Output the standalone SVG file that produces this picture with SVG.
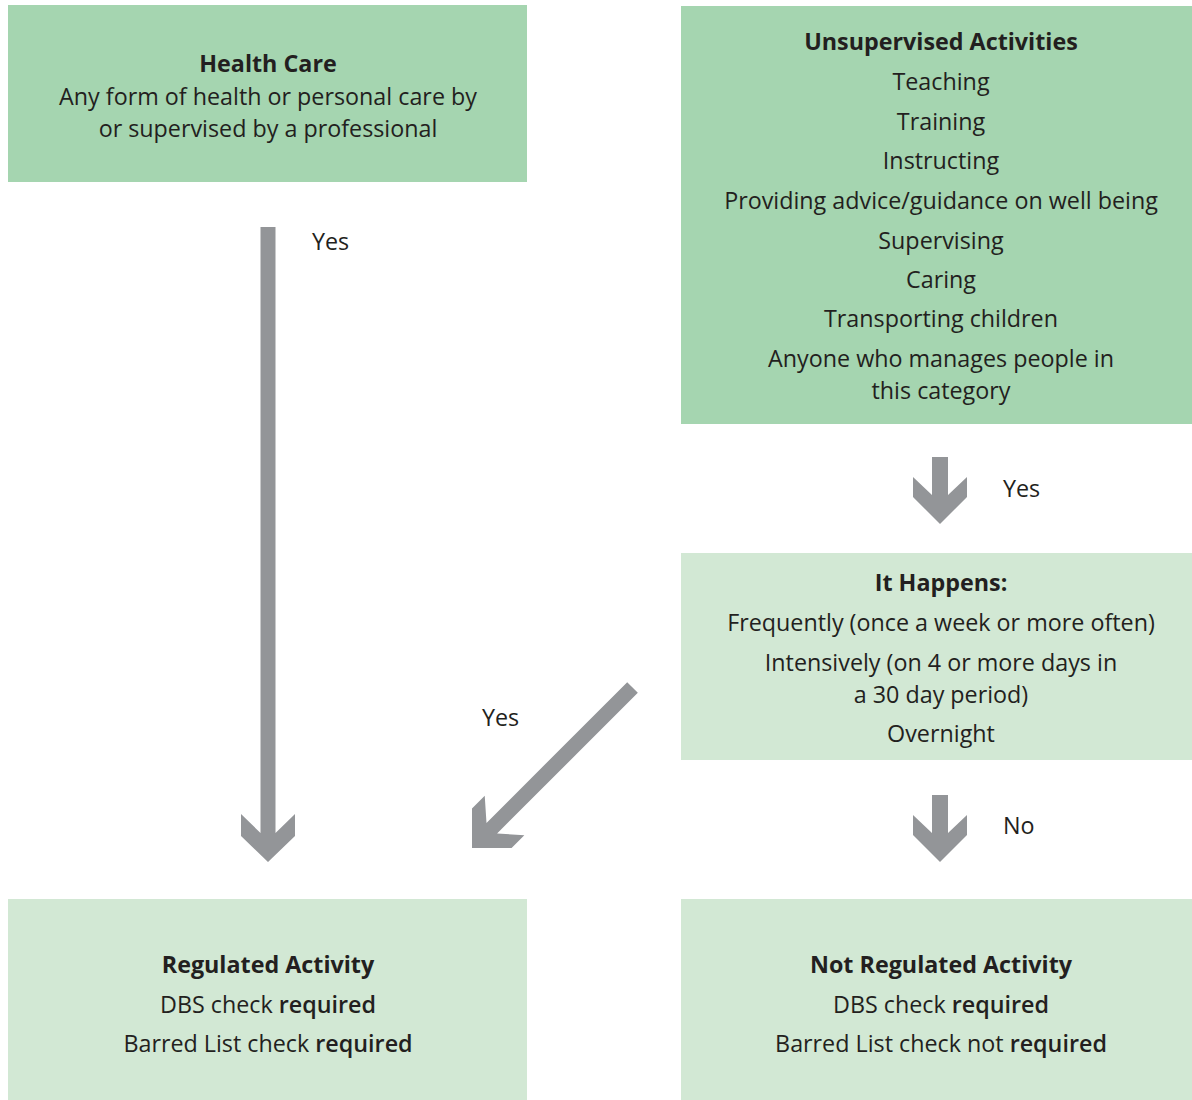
<svg xmlns="http://www.w3.org/2000/svg" width="1192" height="1100" viewBox="0 0 1192 1100">
<style>
.dark{fill:#a5d5b0}
.light{fill:#d2e8d4}
text{font-family:"Open Sans","Liberation Sans",sans-serif;font-size:23.3px;fill:#231f20;text-anchor:middle}
.b{font-weight:700}
.m{font-weight:600}
.arrow{fill:#939598}
.lbl{text-anchor:start}
</style>
<rect width="1192" height="1100" fill="#ffffff"/>
<g id="connectors">
<path class="arrow" transform="translate(268,862)" d="M-7.5,-635 L7.5,-635 L7.5,-29 L27,-48 L27,-26 L0,0 L-27,-26 L-27,-48 L-7.5,-29 Z"/>
<path class="arrow" transform="translate(940,524)" d="M-8,-67 L8,-67 L8,-29 L27,-47 L27,-27 L0,0 L-27,-27 L-27,-47 L-8,-29 Z"/>
<path class="arrow" transform="translate(940,862)" d="M-8,-67 L8,-67 L8,-29 L27,-47 L27,-27 L0,0 L-27,-27 L-27,-47 L-8,-29 Z"/>
<path class="arrow" transform="translate(472,848) rotate(45)" d="M-7.5,-227 L7.5,-227 L7.5,-28 L28,-46 L28,-28 L0,0 L-28,-28 L-28,-46 L-7.5,-28 Z"/>
<text class="lbl" x="312" y="250">Yes</text>
<text class="lbl" x="1003" y="497">Yes</text>
<text class="lbl" x="482" y="726">Yes</text>
<text class="lbl" x="1003" y="834">No</text>
</g>
<g id="health-care">
<rect class="dark" x="8" y="5" width="519" height="177"/>
<text class="b" x="268" y="72">Health Care</text>
<text x="268" y="105">Any form of health or personal care by</text>
<text x="268" y="137">or supervised by a professional</text>
</g>
<g id="unsupervised">
<rect class="dark" x="681" y="6" width="511" height="418"/>
<text class="b" x="941" y="50">Unsupervised Activities</text>
<text x="941" y="90">Teaching</text>
<text x="941" y="130">Training</text>
<text x="941" y="169">Instructing</text>
<text x="941" y="209">Providing advice/guidance on well being</text>
<text x="941" y="249">Supervising</text>
<text x="941" y="288">Caring</text>
<text x="941" y="327">Transporting children</text>
<text x="941" y="367">Anyone who manages people in</text>
<text x="941" y="399">this category</text>
</g>
<g id="it-happens">
<rect class="light" x="681" y="553" width="511" height="207"/>
<text class="b" x="941" y="591">It Happens:</text>
<text x="941" y="631">Frequently (once a week or more often)</text>
<text x="941" y="671">Intensively (on 4 or more days in</text>
<text x="941" y="703">a 30 day period)</text>
<text x="941" y="742">Overnight</text>
</g>
<g id="regulated">
<rect class="light" x="8" y="899" width="519" height="201"/>
<text class="b" x="268" y="973">Regulated Activity</text>
<text x="268" y="1013">DBS check <tspan class="m">required</tspan></text>
<text x="268" y="1052">Barred List check <tspan class="m">required</tspan></text>
</g>
<g id="not-regulated">
<rect class="light" x="681" y="899" width="511" height="201"/>
<text class="b" x="941" y="973">Not Regulated Activity</text>
<text x="941" y="1013">DBS check <tspan class="m">required</tspan></text>
<text x="941" y="1052">Barred List check not <tspan class="m">required</tspan></text>
</g>
</svg>
